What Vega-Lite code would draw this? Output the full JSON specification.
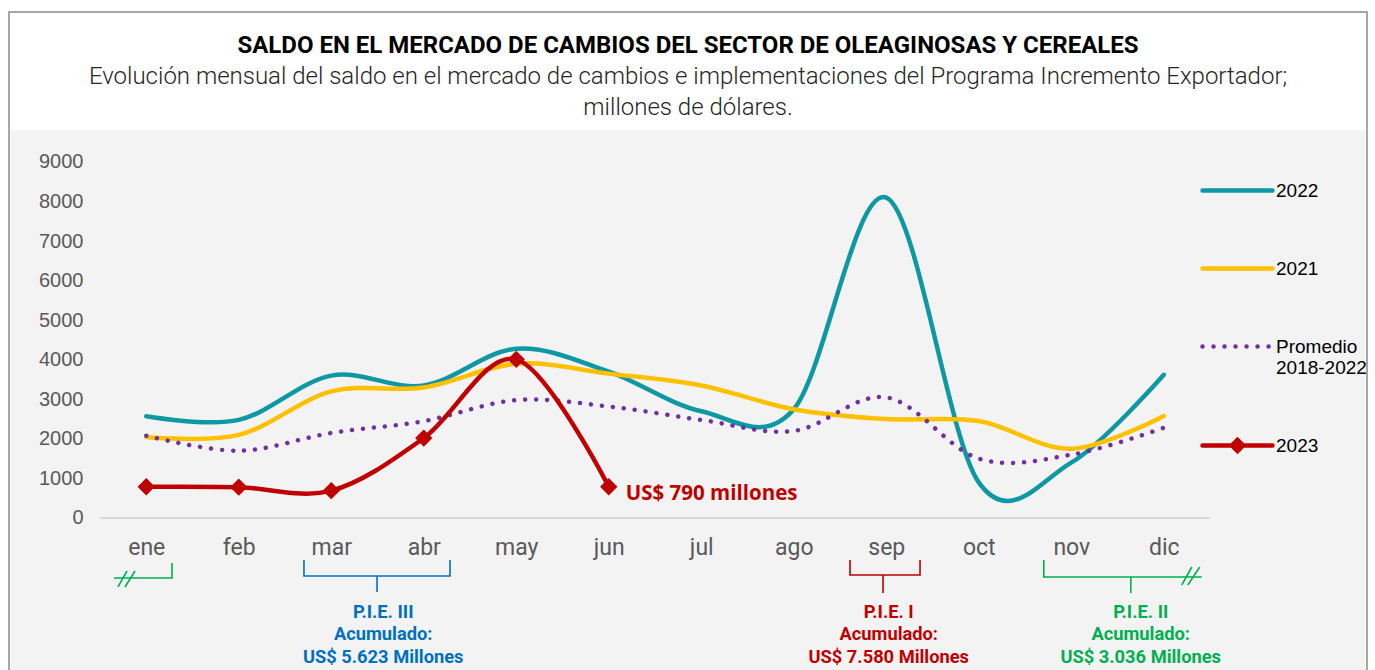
{
  "$schema": "https://vega.github.io/schema/vega-lite/v6.json",
  "width": 1358,
  "height": 658,
  "autosize": {"type": "none"},
  "padding": {"left": 9, "top": 12, "right": 8, "bottom": 0},
  "background": "white",
  "config": {"view": {"fill": "#ffffff", "stroke": "#a6a6a6", "strokeWidth": 2}, "font": "Roboto"},
  "title": {
    "text": "SALDO EN EL MERCADO DE CAMBIOS DEL SECTOR DE OLEAGINOSAS Y CEREALES",
    "subtitle": ["Evolución mensual del saldo en el mercado de cambios e implementaciones del Programa Incremento Exportador;", "millones de dólares."],
    "anchor": "middle",
    "font": "Roboto",
    "fontSize": 24,
    "fontWeight": "bold",
    "color": "#000000",
    "subtitleFont": "Roboto",
    "subtitleFontSize": 24,
    "subtitleFontWeight": 300,
    "subtitleColor": "#262626",
    "subtitlePadding": 7,
    "subtitleLineHeight": 31,
    "offset": -108
  },
  "datasets": {
    "series": [
      {"mes": 1, "serie": "2022", "valor": 2570}, {"mes": 2, "serie": "2022", "valor": 2480}, {"mes": 3, "serie": "2022", "valor": 3600}, {"mes": 4, "serie": "2022", "valor": 3350}, {"mes": 5, "serie": "2022", "valor": 4280}, {"mes": 6, "serie": "2022", "valor": 3700}, {"mes": 7, "serie": "2022", "valor": 2700}, {"mes": 8, "serie": "2022", "valor": 2750}, {"mes": 9, "serie": "2022", "valor": 8100}, {"mes": 10, "serie": "2022", "valor": 900}, {"mes": 11, "serie": "2022", "valor": 1400}, {"mes": 12, "serie": "2022", "valor": 3620},
      {"mes": 1, "serie": "2021", "valor": 2050}, {"mes": 2, "serie": "2021", "valor": 2100}, {"mes": 3, "serie": "2021", "valor": 3200}, {"mes": 4, "serie": "2021", "valor": 3300}, {"mes": 5, "serie": "2021", "valor": 3900}, {"mes": 6, "serie": "2021", "valor": 3650}, {"mes": 7, "serie": "2021", "valor": 3350}, {"mes": 8, "serie": "2021", "valor": 2750}, {"mes": 9, "serie": "2021", "valor": 2500}, {"mes": 10, "serie": "2021", "valor": 2450}, {"mes": 11, "serie": "2021", "valor": 1750}, {"mes": 12, "serie": "2021", "valor": 2580},
      {"mes": 1, "serie": "Promedio 2018-2022", "valor": 2080}, {"mes": 2, "serie": "Promedio 2018-2022", "valor": 1700}, {"mes": 3, "serie": "Promedio 2018-2022", "valor": 2150}, {"mes": 4, "serie": "Promedio 2018-2022", "valor": 2450}, {"mes": 5, "serie": "Promedio 2018-2022", "valor": 2980}, {"mes": 6, "serie": "Promedio 2018-2022", "valor": 2820}, {"mes": 7, "serie": "Promedio 2018-2022", "valor": 2480}, {"mes": 8, "serie": "Promedio 2018-2022", "valor": 2200}, {"mes": 9, "serie": "Promedio 2018-2022", "valor": 3050}, {"mes": 10, "serie": "Promedio 2018-2022", "valor": 1500}, {"mes": 11, "serie": "Promedio 2018-2022", "valor": 1600}, {"mes": 12, "serie": "Promedio 2018-2022", "valor": 2280},
      {"mes": 1, "serie": "2023", "valor": 790}, {"mes": 2, "serie": "2023", "valor": 780}, {"mes": 3, "serie": "2023", "valor": 690}, {"mes": 4, "serie": "2023", "valor": 2020}, {"mes": 5, "serie": "2023", "valor": 4010}, {"mes": 6, "serie": "2023", "valor": 790}
    ],
    "llaves": [
      {"trazo": "ene", "pie": "ene", "orden": 1, "x": 0.6514, "y": -1517}, {"trazo": "ene", "pie": "ene", "orden": 2, "x": 1.2784, "y": -1517}, {"trazo": "ene", "pie": "ene", "orden": 3, "x": 1.2784, "y": -1138},
      {"trazo": "ene_b1", "pie": "ene", "orden": 1, "x": 0.6946, "y": -1744}, {"trazo": "ene_b1", "pie": "ene", "orden": 2, "x": 0.7919, "y": -1340},
      {"trazo": "ene_b2", "pie": "ene", "orden": 1, "x": 0.7703, "y": -1744}, {"trazo": "ene_b2", "pie": "ene", "orden": 2, "x": 0.8784, "y": -1340},
      {"trazo": "III", "pie": "III", "orden": 1, "x": 2.705, "y": -1062}, {"trazo": "III", "pie": "III", "orden": 2, "x": 2.705, "y": -1466}, {"trazo": "III", "pie": "III", "orden": 3, "x": 3.495, "y": -1466}, {"trazo": "III", "pie": "III", "orden": 4, "x": 3.495, "y": -1871}, {"trazo": "III", "pie": "III", "orden": 5, "x": 3.495, "y": -1466}, {"trazo": "III", "pie": "III", "orden": 6, "x": 4.284, "y": -1466}, {"trazo": "III", "pie": "III", "orden": 7, "x": 4.284, "y": -1062},
      {"trazo": "I", "pie": "I", "orden": 1, "x": 8.608, "y": -1062}, {"trazo": "I", "pie": "I", "orden": 2, "x": 8.608, "y": -1441}, {"trazo": "I", "pie": "I", "orden": 3, "x": 8.965, "y": -1441}, {"trazo": "I", "pie": "I", "orden": 4, "x": 8.965, "y": -1896}, {"trazo": "I", "pie": "I", "orden": 5, "x": 8.965, "y": -1441}, {"trazo": "I", "pie": "I", "orden": 6, "x": 9.365, "y": -1441}, {"trazo": "I", "pie": "I", "orden": 7, "x": 9.365, "y": -1062},
      {"trazo": "II", "pie": "II", "orden": 1, "x": 10.703, "y": -1062}, {"trazo": "II", "pie": "II", "orden": 2, "x": 10.703, "y": -1492}, {"trazo": "II", "pie": "II", "orden": 3, "x": 11.644, "y": -1492}, {"trazo": "II", "pie": "II", "orden": 4, "x": 11.644, "y": -1896}, {"trazo": "II", "pie": "II", "orden": 5, "x": 11.644, "y": -1492}, {"trazo": "II", "pie": "II", "orden": 6, "x": 12.411, "y": -1492},
      {"trazo": "II_b1", "pie": "II", "orden": 1, "x": 12.195, "y": -1694}, {"trazo": "II_b1", "pie": "II", "orden": 2, "x": 12.303, "y": -1239},
      {"trazo": "II_b2", "pie": "II", "orden": 1, "x": 12.26, "y": -1694}, {"trazo": "II_b2", "pie": "II", "orden": 2, "x": 12.389, "y": -1239}
    ],
    "notas": [
      {"pie": "III", "x": 3.562, "y": -2174, "texto": "P.I.E. III\nAcumulado:\nUS$ 5.623 Millones"},
      {"pie": "I", "x": 9.027, "y": -2174, "texto": "P.I.E. I\nAcumulado:\nUS$ 7.580 Millones"},
      {"pie": "II", "x": 11.751, "y": -2174, "texto": "P.I.E. II\nAcumulado:\nUS$ 3.036 Millones"}
    ],
    "zona": [{"x1": -0.4676, "x2": 14.181, "y1": 9809, "y2": -3843}]
  },
  "layer": [
    {
      "data": {"name": "zona"},
      "mark": {"type": "rect", "color": "#f3f3f3", "clip": false},
      "encoding": {"x": {"field": "x1", "type": "quantitative"}, "x2": {"field": "x2"}, "y": {"field": "y1", "type": "quantitative"}, "y2": {"field": "y2"}}
    },
    {
      "data": {"values": [{"desde": 0.5, "hasta": 12.5, "nivel": 0}]},
      "mark": {"type": "rule", "color": "#d9d9d9", "strokeWidth": 2},
      "encoding": {"x": {"field": "desde", "type": "quantitative"}, "x2": {"field": "hasta"}, "y": {"field": "nivel", "type": "quantitative"}}
    },
    {
      "data": {"name": "series"},
      "transform": [{"filter": "datum.serie === '2022'"}],
      "mark": {"type": "line", "interpolate": "cardinal", "strokeWidth": 4.5, "strokeCap": "round"},
      "encoding": {
        "x": {"field": "mes", "type": "quantitative", "scale": {"domain": [-0.4838, 14.197], "nice": false, "zero": false},
          "axis": {"zindex": 1, "values": [1,2,3,4,5,6,7,8,9,10,11,12], "labelExpr": "['ene','feb','mar','abr','may','jun','jul','ago','sep','oct','nov','dic'][datum.value-1]", "title": null, "grid": false, "domain": false, "ticks": false, "offset": -152, "labelPadding": 18, "labelFont": "Roboto", "labelFontSize": 23, "labelColor": "#595959", "labelFlush": false, "labelOverlap": false}},
        "y": {"field": "valor", "type": "quantitative", "scale": {"domain": [-3843, 12792], "nice": false, "zero": false},
          "axis": {"zindex": 1, "values": [0,1000,2000,3000,4000,5000,6000,7000,8000,9000], "format": "d", "title": null, "grid": false, "domain": false, "ticks": false, "offset": -74, "labelPadding": 0, "labelFont": "Liberation Sans", "labelFontSize": 20, "labelColor": "#595959"}},
        "color": {"field": "serie", "type": "nominal",
          "scale": {"domain": ["2022", "2021", "Promedio 2018-2022", "2023"], "range": ["#0d98a3", "#ffc000", "#7030a0", "#c00000"]},
          "legend": {"title": null, "orient": "none", "legendX": 1191, "legendY": 141, "padding": 0, "rowPadding": 30, "symbolSize": 4900, "symbolStrokeWidth": 4.5, "labelFont": "Liberation Sans", "labelFontSize": 19, "labelColor": "#000000", "labelOffset": 1, "labelLimit": 200,
            "labelExpr": "datum.label === 'Promedio 2018-2022' ? ['Promedio', '2018-2022'] : datum.label",
            "encode": {"symbols": {"update": {
              "shape": {"signal": "datum.value === '2023' ? 'M-1,0L1,0M0,-0.16L0.16,0L0,0.16L-0.16,0Z' : 'M-1,0L1,0'"},
              "strokeDash": {"signal": "datum.value === 'Promedio 2018-2022' ? [0.01, 11] : [1, 0]"},
              "strokeCap": {"value": "round"},
              "fill": {"signal": "datum.value === '2023' ? '#c00000' : 'transparent'"}
            }}}}
        }
      }
    },
    {
      "data": {"name": "series"},
      "transform": [{"filter": "datum.serie === '2021'"}],
      "mark": {"type": "line", "interpolate": "cardinal", "strokeWidth": 4.5, "strokeCap": "round"},
      "encoding": {"x": {"field": "mes", "type": "quantitative"}, "y": {"field": "valor", "type": "quantitative"}, "color": {"field": "serie", "type": "nominal"}}
    },
    {
      "data": {"name": "series"},
      "transform": [{"filter": "datum.serie === 'Promedio 2018-2022'"}],
      "mark": {"type": "line", "interpolate": "cardinal", "strokeWidth": 4.5, "strokeCap": "round", "strokeDash": [0.01, 11]},
      "encoding": {"x": {"field": "mes", "type": "quantitative"}, "y": {"field": "valor", "type": "quantitative"}, "color": {"field": "serie", "type": "nominal"}}
    },
    {
      "data": {"name": "series"},
      "transform": [{"filter": "datum.serie === '2023'"}],
      "mark": {"type": "line", "interpolate": "cardinal", "strokeWidth": 4.5, "strokeCap": "round"},
      "encoding": {"x": {"field": "mes", "type": "quantitative"}, "y": {"field": "valor", "type": "quantitative"}, "color": {"field": "serie", "type": "nominal"}}
    },
    {
      "data": {"name": "series"},
      "transform": [{"filter": "datum.serie === '2023'"}],
      "mark": {"type": "point", "shape": "diamond", "filled": true, "size": 300, "opacity": 1, "color": "#c00000"},
      "encoding": {"x": {"field": "mes", "type": "quantitative"}, "y": {"field": "valor", "type": "quantitative"}}
    },
    {
      "data": {"name": "series"},
      "transform": [{"filter": "datum.serie === '2023' && datum.mes === 6"}],
      "mark": {"type": "text", "align": "left", "baseline": "middle", "dx": 17, "dy": 7, "font": "Open Sans", "fontWeight": "bold", "fontSize": 20.5, "color": "#c00000"},
      "encoding": {"x": {"field": "mes", "type": "quantitative"}, "y": {"field": "valor", "type": "quantitative"}, "text": {"value": "US$ 790 millones"}}
    },
    {
      "data": {"name": "llaves"},
      "transform": [{"filter": "datum.pie === 'III'"}],
      "mark": {"type": "line", "color": "#0070c0", "strokeWidth": 1.6, "clip": false},
      "encoding": {"x": {"field": "x", "type": "quantitative"}, "y": {"field": "y", "type": "quantitative"}, "detail": {"field": "trazo"}, "order": {"field": "orden"}}
    },
    {
      "data": {"name": "llaves"},
      "transform": [{"filter": "datum.pie === 'I'"}],
      "mark": {"type": "line", "color": "#c00000", "strokeWidth": 1.6, "clip": false},
      "encoding": {"x": {"field": "x", "type": "quantitative"}, "y": {"field": "y", "type": "quantitative"}, "detail": {"field": "trazo"}, "order": {"field": "orden"}}
    },
    {
      "data": {"name": "llaves"},
      "transform": [{"filter": "datum.pie === 'II' || datum.pie === 'ene'"}],
      "mark": {"type": "line", "color": "#00b050", "strokeWidth": 1.6, "clip": false},
      "encoding": {"x": {"field": "x", "type": "quantitative"}, "y": {"field": "y", "type": "quantitative"}, "detail": {"field": "trazo"}, "order": {"field": "orden"}}
    },
    {
      "data": {"name": "notas"},
      "transform": [{"filter": "datum.pie === 'III'"}],
      "mark": {"type": "text", "align": "center", "baseline": "top", "lineBreak": "\n", "lineHeight": 22.5, "font": "Roboto", "fontWeight": "bold", "fontSize": 18.3, "color": "#0070c0"},
      "encoding": {"x": {"field": "x", "type": "quantitative"}, "y": {"field": "y", "type": "quantitative"}, "text": {"field": "texto"}}
    },
    {
      "data": {"name": "notas"},
      "transform": [{"filter": "datum.pie === 'I'"}],
      "mark": {"type": "text", "align": "center", "baseline": "top", "lineBreak": "\n", "lineHeight": 22.5, "font": "Roboto", "fontWeight": "bold", "fontSize": 18.3, "color": "#c00000"},
      "encoding": {"x": {"field": "x", "type": "quantitative"}, "y": {"field": "y", "type": "quantitative"}, "text": {"field": "texto"}}
    },
    {
      "data": {"name": "notas"},
      "transform": [{"filter": "datum.pie === 'II'"}],
      "mark": {"type": "text", "align": "center", "baseline": "top", "lineBreak": "\n", "lineHeight": 22.5, "font": "Roboto", "fontWeight": "bold", "fontSize": 18.3, "color": "#00b050"},
      "encoding": {"x": {"field": "x", "type": "quantitative"}, "y": {"field": "y", "type": "quantitative"}, "text": {"field": "texto"}}
    }
  ]
}
